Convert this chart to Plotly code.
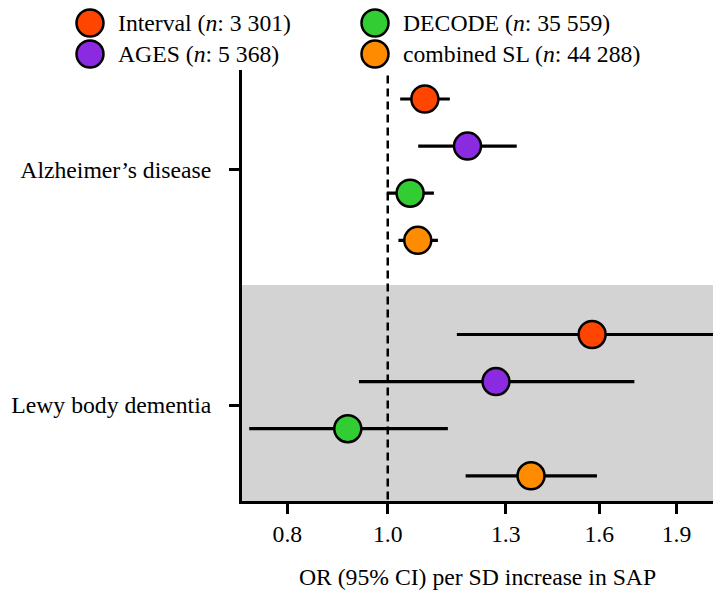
import plotly.graph_objects as go
import math

# ---- data ----
outcomes = ["Alzheimer\u2019s disease", "Lewy body dementia"]
studies = ["Interval", "AGES", "DECODE", "combined SL"]
study_n = ["3 301", "5 368", "35 559", "44 288"]
colors = ["#FF4500", "#8A2BE2", "#32CD32", "#FF8C00"]

# OR estimates [Alzheimer's, Lewy body]
or_interval = [1.086, 1.575]
or_ages = [1.194, 1.272]
or_decode = [1.051, 0.915]
or_combined = [1.069, 1.375]

lo_interval = [1.028, 1.166]
lo_ages = [1.070, 0.938]
lo_decode = [0.998, 0.735]
lo_combined = [1.024, 1.189]

hi_interval = [1.148, 2.15]
hi_ages = [1.332, 1.730]
hi_decode = [1.108, 1.143]
hi_combined = [1.118, 1.592]

x_ticks = [0.8, 1.0, 1.3, 1.6, 1.9]
x_ticklabels = ["0.8", "1.0", "1.3", "1.6", "1.9"]

ors = [or_interval, or_ages, or_decode, or_combined]
los = [lo_interval, lo_ages, lo_decode, lo_combined]
his = [hi_interval, hi_ages, hi_decode, hi_combined]

FONT = "Liberation Serif, Times New Roman, serif"
FS = 23.7
W, H = 713, 593
ML, MR, MT, MB = 242, 0, 70, 92
PW, PH = W - ML - MR, H - MT - MB

slot = len(studies) + 1  # rows per outcome group incl. gap

fig = go.Figure()
for si, name in enumerate(studies):
    ys = [g * slot + si for g in range(len(outcomes))]
    o, l, h = ors[si], los[si], his[si]
    fig.add_trace(go.Scatter(
        x=o, y=ys, mode="markers", name=name, showlegend=False,
        marker=dict(size=27, color=colors[si], line=dict(color="black", width=2.5)),
        error_x=dict(type="data", symmetric=False,
                     array=[hh - oo for hh, oo in zip(h, o)],
                     arrayminus=[oo - ll for oo, ll in zip(o, l)],
                     color="black", thickness=3.2, width=0),
    ))

y_top = -0.616
y_bot = (len(outcomes) - 1) * slot + len(studies) - 1 + 0.535
group_centers = [g * slot + (len(studies) - 1) / 2 for g in range(len(outcomes))]

shapes = [
    # grey band behind the second outcome group
    dict(type="rect", xref="paper", yref="y", x0=0, x1=1,
         y0=slot - 1.05, y1=y_bot, fillcolor="#D3D3D3", line=dict(width=0), layer="below"),
    # null line
    dict(type="line", xref="x", yref="y", x0=1.0, x1=1.0, y0=-0.5, y1=y_bot,
         line=dict(color="black", width=2.5, dash="8px,5px"), layer="below"),
]

# custom legend (two columns); positions in page pixels
annotations = []
leg_pos = [(90, 23), (90, 54), (375, 23), (375, 54)]  # Interval, AGES, DECODE, combined
for si, name in enumerate(studies):
    cx, cy = leg_pos[si]
    px = (cx - ML) / PW
    py = (H - MB - cy) / PH
    shapes.append(dict(type="circle", xref="paper", yref="paper",
                       xsizemode="pixel", ysizemode="pixel",
                       xanchor=px, yanchor=py, x0=-13.5, x1=13.5, y0=-13.5, y1=13.5,
                       fillcolor=colors[si], line=dict(color="black", width=2.5)))
    annotations.append(dict(xref="paper", yref="paper",
                            x=(cx + 26 - ML) / PW, y=py, xanchor="left", yanchor="middle",
                            text=f"{name} (<i>n</i>: {study_n[si]})", showarrow=False,
                            font=dict(family=FONT, size=FS, color="black")))

fig.update_layout(
    width=W, height=H,
    margin=dict(l=ML, r=MR, t=MT, b=MB),
    plot_bgcolor="white", paper_bgcolor="white",
    font=dict(family=FONT, size=FS, color="black"),
    shapes=shapes, annotations=annotations,
    showlegend=False,
)
fig.update_xaxes(
    type="log",
    range=[math.log10(0.7233), math.log10(2.0604)],
    tickvals=x_ticks, ticktext=x_ticklabels,
    showline=True, linewidth=3, linecolor="black",
    ticks="outside", ticklen=10, tickwidth=3, tickcolor="black",
    showgrid=False, zeroline=False,
    title=dict(text="OR (95% CI) per SD increase in SAP", standoff=22,
               font=dict(family=FONT, size=FS)),
)
fig.update_yaxes(
    range=[y_bot, y_top],
    tickvals=group_centers, ticktext=outcomes,
    showline=True, linewidth=3, linecolor="black",
    ticks="outside", ticklen=10, tickwidth=3, tickcolor="black",
    showgrid=False, zeroline=False,
    ticklabelstandoff=13,
)

fig.write_html("out.html",
               config={"displayModeBar": False},
               post_script="document.body.style.margin='0';document.body.style.overflow='hidden';")
